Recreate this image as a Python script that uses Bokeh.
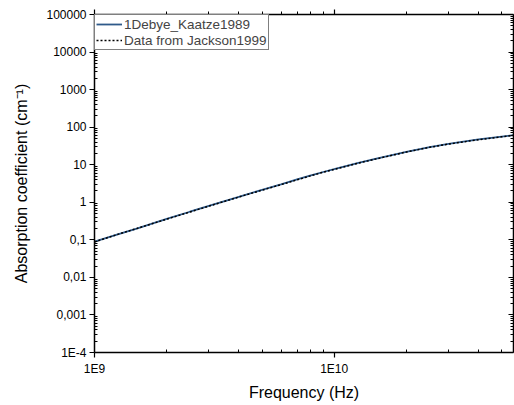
from bokeh.plotting import figure
from bokeh.models import Range1d, LogAxis, FixedTicker, Legend, LegendItem
from bokeh.embed import file_html
from bokeh.resources import INLINE

# Data
freq_hz = [1e9, 1.25e9, 1.5e9, 2e9, 2.5e9, 3e9, 4e9, 5e9, 6e9, 7e9, 8e9, 9e9,
           1e10, 1.25e10, 1.5e10, 2e10, 2.5e10, 3e10, 4e10, 5e10, 5.6e10]
alpha_kaatze = [0.09, 0.14, 0.2, 0.36, 0.56, 0.8, 1.4, 2.15, 3.0, 4.05, 5.2, 6.4,
                7.6, 11.0, 14.5, 22.0, 29.5, 36.0, 47.0, 56.0, 61.0]
freq_jackson = [1e9, 1.25e9, 1.5e9, 2e9, 2.5e9, 3e9, 4e9, 5e9, 6e9, 7e9, 8e9, 9e9,
                1e10, 1.25e10, 1.5e10, 2e10, 2.5e10, 3e10, 4e10, 5e10, 5.6e10]
alpha_jackson = [0.088, 0.14, 0.2, 0.355, 0.55, 0.79, 1.38, 2.1, 2.95, 3.95, 5.1, 6.3,
                 7.5, 10.9, 14.3, 21.8, 29.0, 35.5, 46.5, 55.5, 60.5]

y_tick_values = [1e-4, 1e-3, 1e-2, 1e-1, 1, 10, 100, 1000, 10000, 100000]
y_tick_labels = ["1E-4", "0,001", "0,01", "0,1", "1", "10", "100", "1000", "10000", "100000"]
x_tick_values = [1e9, 1e10]
x_tick_labels = ["1E9", "1E10"]

FONT = "Liberation Sans"

y_minor = [k * 10.0 ** e for e in range(-4, 5) for k in range(2, 10)]
x_minor = [k * 10.0 ** e for e in range(9, 11) for k in range(2, 10)]

p = figure(width=514, height=405, x_axis_type="log", y_axis_type="log",
           x_range=Range1d(1e9, 5.6e10), y_range=Range1d(1e-4, 1e5),
           output_backend="svg", toolbar_location=None,
           min_border_left=94, min_border_right=1, min_border_top=14, min_border_bottom=53)
p.xgrid.visible = False
p.ygrid.visible = False
p.outline_line_color = None
p.background_fill_color = "white"
p.border_fill_color = "white"

def style(ax, ticks, minor, labels, show_labels, major_in, major_out, minor_in, minor_out):
    ax.ticker = FixedTicker(ticks=ticks, minor_ticks=minor)
    ax.axis_line_color = "black"
    ax.axis_line_width = 1.5
    ax.major_tick_line_color = "black"
    ax.minor_tick_line_color = "black"
    ax.major_tick_line_width = 1.2
    ax.minor_tick_line_width = 1
    ax.major_tick_in = major_in
    ax.major_tick_out = major_out
    ax.minor_tick_in = minor_in
    ax.minor_tick_out = minor_out
    if show_labels:
        ax.major_label_overrides = {v: l for v, l in zip(ticks, labels)}
        ax.major_label_text_font = FONT
        ax.major_label_text_font_size = "12px"
        ax.major_label_text_color = "black"
    else:
        ax.major_label_overrides = {v: "" for v in ticks}
        ax.major_label_text_font_size = "0px"
        ax.major_label_standoff = 0

xa = p.xaxis[0]
ya = p.yaxis[0]
style(xa, x_tick_values, x_minor, x_tick_labels, True, 0, 5, 3, 0)
style(ya, y_tick_values, y_minor, y_tick_labels, True, 0, 5, 3, 0)
xa.axis_label = "Frequency (Hz)"
ya.axis_label = "Absorption coefficient (cm\u207b\u00b9)"
for ax in (xa, ya):
    ax.axis_label_text_font = FONT
    ax.axis_label_text_font_size = "16px"
    ax.axis_label_text_font_style = "normal"
    ax.axis_label_text_color = "black"
xa.major_label_standoff = 4
ya.major_label_standoff = 3
xa.axis_label_standoff = 5
ya.axis_label_standoff = 13

top = LogAxis()
style(top, x_tick_values, x_minor, x_tick_labels, False, 0, 5, 0, 3)
p.add_layout(top, "above")
right = LogAxis()
style(right, y_tick_values, y_minor, y_tick_labels, False, 5, 0, 3, 0)
p.add_layout(right, "right")

r1 = p.line(freq_hz, alpha_kaatze, line_color="#2f5a8a", line_width=1.8)
r2 = p.line(freq_jackson, alpha_jackson, line_color="black", line_width=1.5, line_dash="2 2")

legend = Legend(items=[LegendItem(label="1Debye_Kaatze1989", renderers=[r1]),
                       LegendItem(label="Data from Jackson1999", renderers=[r2])],
                location="top_left")
legend.margin = 0
legend.padding = 1
legend.spacing = 0
legend.label_text_font = FONT
legend.label_text_font_size = "13.5px"
legend.label_height = 16
legend.glyph_height = 16
legend.glyph_width = 26
legend.label_standoff = 2
legend.border_line_color = "black"
legend.border_line_width = 1
legend.background_fill_alpha = 1
p.add_layout(legend)

open("out.html", "w").write(file_html(p, INLINE))
